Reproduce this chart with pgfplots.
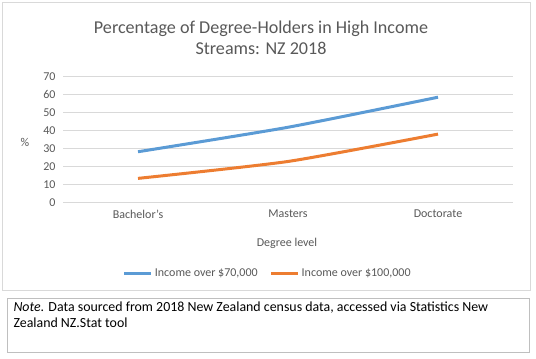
\documentclass[border=0pt]{standalone}
\usepackage{pgfplots}
\pgfplotsset{compat=1.18}
\usepackage{fontspec}
\setmainfont{Carlito}
\definecolor{serblue}{HTML}{5B9BD5}
\definecolor{serorange}{HTML}{ED7D31}
\definecolor{gridgray}{HTML}{D9D9D9}
\definecolor{txtgray}{HTML}{595959}
\definecolor{bordergray}{HTML}{D9D9D9}
\definecolor{notegray}{HTML}{BFBFBF}
\begin{document}
\begin{tikzpicture}
\fill[white] (0,0) rectangle (536pt,-359pt);
\draw[bordergray, line width=1pt] (2pt,-2pt) rectangle (530pt,-290pt);
\draw[notegray, line width=1pt] (7pt,-298pt) rectangle (529pt,-352pt);
\node[text=txtgray, font=\fontsize{18.1}{21}\selectfont, align=center] at (261pt,-37.5pt) {Percentage of Degree-Holders in High Income\\[-0.2pt]Streams: NZ 2018};
\node[text=txtgray, font=\fontsize{12}{14}\selectfont] at (25pt,-142pt) {\%};
\node[text=txtgray, font=\fontsize{12}{14}\selectfont] at (287pt,-243pt) {Degree level};
\node[anchor=west, font=\fontsize{13.9}{15.5}\selectfont, align=left, text=black] at (10pt,-314.5pt) {\textit{Note.} Data sourced from 2018 New Zealand census data, accessed via Statistics New\\Zealand NZ.Stat tool};
\begin{axis}[
  at={(63pt,-202.5pt)}, anchor=south west,
  scale only axis, width=450pt, height=126pt,
  xmin=-0.5, xmax=2.5, ymin=0, ymax=70,
  xtick={0,1,2}, xticklabels={Bachelor's,Masters,Doctorate},
  ytick={0,10,...,70},
  ymajorgrids, grid style={gridgray, line width=1pt},
  axis line style={draw=none}, major tick style={draw=none},
  /pgf/number format/assume math mode=true,
  ticklabel style={text=txtgray, font=\fontsize{12}{14}\selectfont},
  yticklabel style={xshift=-4pt},
  xticklabel style={yshift=-4pt},
  legend columns=2,
  legend style={draw=none, fill=none, at={(0.455,-0.56)}, anchor=center,
    font=\fontsize{12}{14}\selectfont, text=txtgray,
    /tikz/every even column/.append style={column sep=10pt}},
  legend image code/.code={\draw[#1] (0pt,0pt) -- (27pt,0pt);},
  clip=false,
]
\addplot[serblue, line width=3pt, smooth, tension=0.35] coordinates {(0,28.2) (1,41.8) (2,58.5)};
\addlegendentry{Income over \$70,000}
\addplot[serorange, line width=3pt, smooth, tension=0.35] coordinates {(0,13.4) (1,22.8) (2,38)};
\addlegendentry{Income over \$100,000}
\end{axis}
\end{tikzpicture}
\end{document}
